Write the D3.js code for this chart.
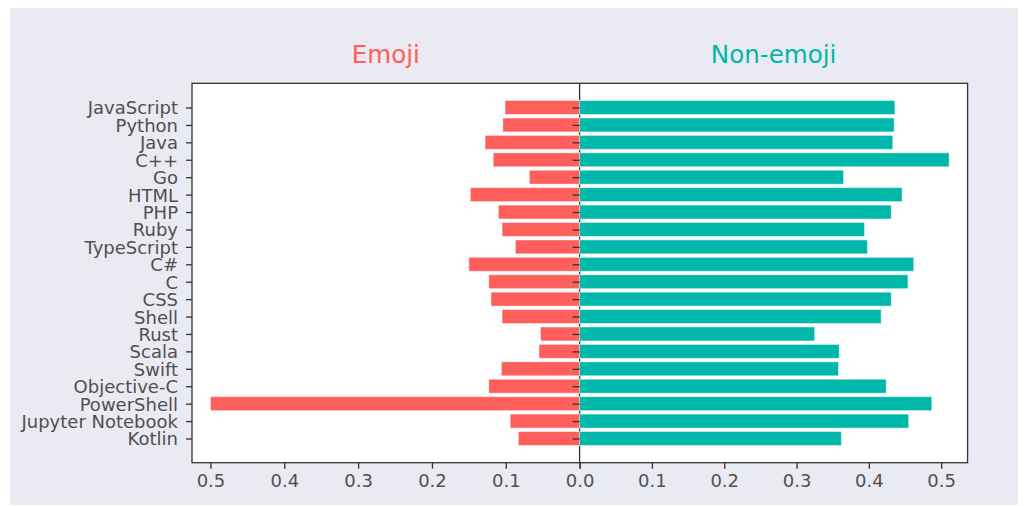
<!DOCTYPE html>
<html>
<head>
<meta charset="utf-8">
<script src="https://cdn.jsdelivr.net/npm/d3@7"></script>
<style>
  html, body { margin: 0; padding: 0; background: #ffffff; }
  svg { display: block; font-family: "DejaVu Sans", sans-serif; }
</style>
</head>
<body>
<svg id="chart" width="1024" height="506"></svg>
<script>
const categories = ["JavaScript","Python","Java","C++","Go","HTML","PHP","Ruby","TypeScript","C#",
  "C","CSS","Shell","Rust","Scala","Swift","Objective-C","PowerShell","Jupyter Notebook","Kotlin"];
const emoji = [0.101,0.104,0.128,0.117,0.068,0.148,0.110,0.105,0.087,0.150,
  0.123,0.120,0.105,0.053,0.055,0.106,0.123,0.500,0.094,0.083];
const nonEmoji = [0.436,0.435,0.433,0.511,0.365,0.446,0.431,0.394,0.398,0.462,
  0.454,0.431,0.417,0.325,0.359,0.358,0.424,0.487,0.455,0.362];
const xTickValues = [0, 0.1, 0.2, 0.3, 0.4, 0.5];
const titles = ["Emoji", "Non-emoji"];

const RED = "#ff5f5a", TEAL = "#00b8a9", TEXT = "#505050", SPINE = "#333333";
const svg = d3.select("#chart");

// figure background
svg.append("rect").attr("x", 10).attr("y", 8).attr("width", 1008).attr("height", 497).attr("fill", "#eaeaf2");

const L = 192, M = 579.6, R = 967.6, T = 83.3, B = 462.7;
svg.append("rect").attr("x", L).attr("y", T).attr("width", R - L).attr("height", B - T).attr("fill", "#ffffff");

const xL = d3.scaleLinear().domain([0, d3.max(emoji) * 1.05]).range([M, L]);
const xR = d3.scaleLinear().domain([0, d3.max(nonEmoji) * 1.05]).range([M, R]);
const n = categories.length;
const pad = 0.05 * (n - 1 + 0.8);
const y = d3.scaleLinear().domain([-0.4 - pad, n - 1 + 0.4 + pad]).range([T, B]);
const bh = y(0.8) - y(0);

// center spine
svg.append("line").attr("x1", M).attr("x2", M).attr("y1", T).attr("y2", B)
  .attr("stroke", SPINE).attr("stroke-width", 1.3);

// bars
svg.append("g").selectAll("rect").data(emoji).join("rect")
  .attr("x", d => xL(d)).attr("width", d => xL(0) - xL(d))
  .attr("y", (d, i) => y(i - 0.4)).attr("height", bh)
  .attr("fill", RED).attr("stroke", "#ffffff").attr("stroke-opacity", 0.45).attr("stroke-width", 1);
svg.append("g").selectAll("rect").data(nonEmoji).join("rect")
  .attr("x", xR(0)).attr("width", d => xR(d) - xR(0))
  .attr("y", (d, i) => y(i - 0.4)).attr("height", bh)
  .attr("fill", TEAL).attr("stroke", "#ffffff").attr("stroke-opacity", 0.45).attr("stroke-width", 1);

// frame
svg.append("rect").attr("x", L).attr("y", T).attr("width", R - L).attr("height", B - T)
  .attr("fill", "none").attr("stroke", SPINE).attr("stroke-width", 1.3);

function styleAxis(g) {
  g.select(".domain").remove();
  g.selectAll(".tick line").attr("stroke", SPINE).attr("stroke-width", 1.3);
  g.selectAll(".tick text").attr("fill", TEXT).attr("font-size", "18px")
    .attr("font-family", "DejaVu Sans, sans-serif");
}

// y axis (left, labels)
const yAxis = d3.axisLeft(y).tickValues(d3.range(n)).tickFormat(i => categories[i])
  .tickSize(6).tickPadding(8);
svg.append("g").attr("transform", `translate(${L},0)`).call(yAxis).call(styleAxis)
  .selectAll(".tick text").attr("dy", "0.36em");

// y ticks on center spine (right subplot), no labels
const yAxis2 = d3.axisLeft(y).tickValues(d3.range(n)).tickFormat("").tickSize(7);
svg.append("g").attr("transform", `translate(${M},0)`).call(yAxis2).call(styleAxis);

// x axes
const fmt = d3.format(".1f");
svg.append("g").attr("transform", `translate(0,${B})`)
  .call(d3.axisBottom(xL).tickValues(xTickValues).tickFormat(fmt).tickSize(6).tickPadding(6))
  .call(styleAxis);
// right axis: the shared 0.0 label is drawn once (by the left axis)
svg.append("g").attr("transform", `translate(0,${B})`)
  .call(d3.axisBottom(xR).tickValues(xTickValues).tickFormat(d => d === 0 ? "" : fmt(d)).tickSize(6).tickPadding(6))
  .call(styleAxis);

// titles
svg.append("text").attr("x", (L + M) / 2).attr("y", 63).attr("text-anchor", "middle")
  .attr("font-size", "24.6px").attr("fill", RED).text(titles[0]);
svg.append("text").attr("x", (M + R) / 2).attr("y", 63).attr("text-anchor", "middle")
  .attr("font-size", "24.6px").attr("fill", TEAL).text(titles[1]);
</script>
</body>
</html>
